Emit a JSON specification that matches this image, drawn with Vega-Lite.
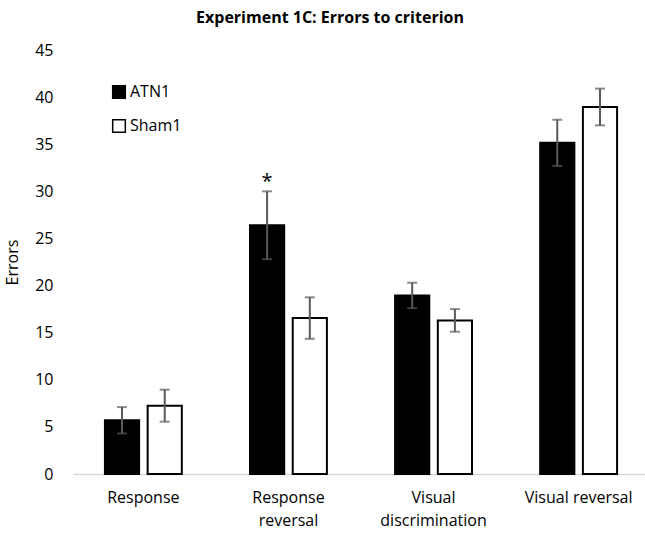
{
  "$schema": "https://vega.github.io/schema/vega-lite/v6.json",
  "width": 576,
  "height": 424,
  "autosize": {"type": "none"},
  "padding": {"left": 73, "top": 50, "right": 0, "bottom": 60},
  "background": "white",
  "config": {"view": {"stroke": null}, "font": "Open Sans"},
  "title": {"text": "Experiment 1C: Errors to criterion", "fontSize": 16, "fontWeight": "bold", "font": "Open Sans", "color": "#000000", "offset": 16, "anchor": "middle", "dx": -31},
  "data": {"values": [
    {"task": "Response", "group": "ATN1", "errors": 5.7, "lo": 4.3, "hi": 7.1, "sig": ""},
    {"task": "Response", "group": "Sham1", "errors": 7.25, "lo": 5.55, "hi": 8.95, "sig": ""},
    {"task": "Response reversal", "group": "ATN1", "errors": 26.4, "lo": 22.8, "hi": 30.0, "sig": "*"},
    {"task": "Response reversal", "group": "Sham1", "errors": 16.55, "lo": 14.35, "hi": 18.75, "sig": ""},
    {"task": "Visual discrimination", "group": "ATN1", "errors": 18.95, "lo": 17.6, "hi": 20.3, "sig": ""},
    {"task": "Visual discrimination", "group": "Sham1", "errors": 16.3, "lo": 15.1, "hi": 17.5, "sig": ""},
    {"task": "Visual reversal", "group": "ATN1", "errors": 35.15, "lo": 32.7, "hi": 37.6, "sig": ""},
    {"task": "Visual reversal", "group": "Sham1", "errors": 38.95, "lo": 37.0, "hi": 40.9, "sig": ""}
  ]},
  "encoding": {
    "x": {"field": "task", "type": "nominal", "sort": null,
      "scale": {"paddingInner": 0.47, "paddingOuter": 0.22},
      "axis": {"title": null, "labelAngle": 0, "ticks": false, "domainColor": "#d9d9d9", "domainWidth": 1.5,
        "labelFontSize": 16, "labelColor": "#000000", "labelPadding": 15, "labelFont": "Open Sans",
        "labelExpr": "datum.value == 'Response reversal' ? ['Response', 'reversal'] : datum.value == 'Visual discrimination' ? ['Visual', 'discrimination'] : datum.value",
        "labelLineHeight": 23}},
    "xOffset": {"field": "group", "type": "nominal", "scale": {"paddingInner": 0.2}}
  },
  "layer": [
    {
      "mark": {"type": "bar", "stroke": "#000000", "strokeWidth": 2},
      "encoding": {
        "y": {"field": "errors", "type": "quantitative", "scale": {"domain": [0, 45], "nice": false},
          "axis": {"title": "Errors", "titleFontSize": 16, "titleFontWeight": "normal", "titleColor": "#000000", "titlePadding": 14,
            "values": [0, 5, 10, 15, 20, 25, 30, 35, 40, 45], "grid": false, "domain": false, "ticks": false,
            "labelFontSize": 16, "labelColor": "#000000", "labelPadding": 20}},
        "fill": {"field": "group", "type": "nominal", "scale": {"domain": ["ATN1", "Sham1"], "range": ["#000000", "#ffffff"]},
          "legend": {"title": null, "orient": "none", "legendX": 38, "legendY": 34, "symbolType": "square", "symbolSize": 160,
            "symbolStrokeColor": "#000000", "symbolStrokeWidth": 1.5, "labelFontSize": 16, "labelColor": "#000000", "rowPadding": 14, "labelOffset": 3}}
      }
    },
    {
      "mark": {"type": "rule", "color": "#595959", "strokeWidth": 2},
      "encoding": {"y": {"field": "lo", "type": "quantitative"}, "y2": {"field": "hi"}}
    },
    {
      "mark": {"type": "tick", "color": "#595959", "thickness": 2, "size": 10},
      "encoding": {"y": {"field": "lo", "type": "quantitative"}}
    },
    {
      "mark": {"type": "tick", "color": "#595959", "thickness": 2, "size": 10},
      "encoding": {"y": {"field": "hi", "type": "quantitative"}}
    },
    {
      "mark": {"type": "text", "fontSize": 20, "fontWeight": "normal", "dy": 6, "color": "#000000"},
      "encoding": {"y": {"datum": 31.6, "type": "quantitative"}, "text": {"field": "sig"}}
    }
  ]
}
